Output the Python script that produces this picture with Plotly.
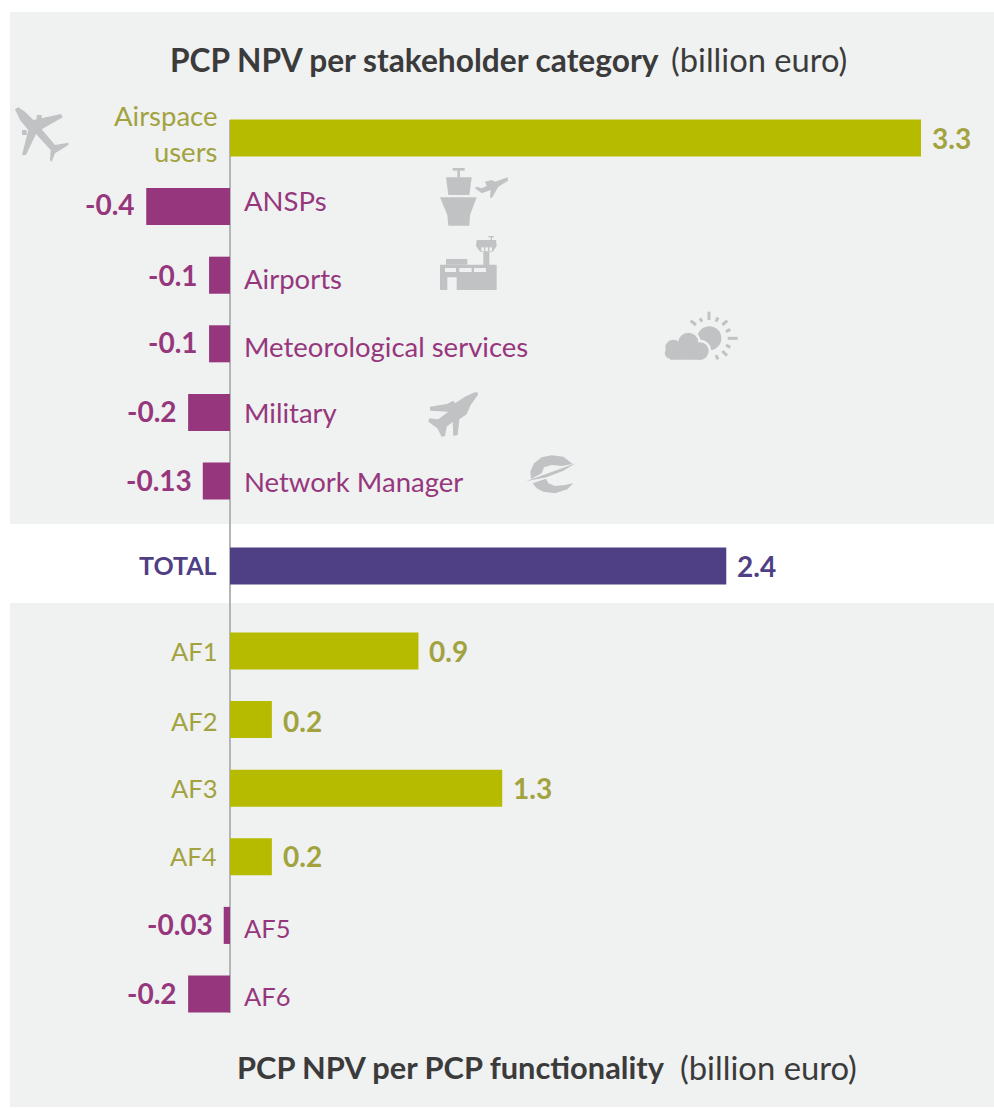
import plotly.graph_objects as go

W, H = 994, 1108
stake_cats = ["Airspace<br>users", "ANSPs", "Airports", "Meteorological services", "Military", "Network Manager"]
stake_vals = [3.3, -0.4, -0.1, -0.1, -0.2, -0.13]
stake_text = ["3.3", "-0.4", "-0.1", "-0.1", "-0.2", "-0.13"]
total_cats = ["TOTAL"]
total_vals = [2.37]
total_text = ["2.4"]
func_cats = ["AF1", "AF2", "AF3", "AF4", "AF5", "AF6"]
func_vals = [0.9, 0.2, 1.3, 0.2, -0.03, -0.2]
func_text = ["0.9", "0.2", "1.3", "0.2", "-0.03", "-0.2"]

OLIVE, OLIVE_T = "#b7bb00", "#a2a33f"
PURPLE, NAVY = "#96377d", "#4f4085"
BG, ICON, DARK = "#f0f1f1", "#c0c2c4", "#3b3b3b"
FONT = "Lato"
X0, PX = 230, 209.4


def fx(x):
    return x / W


def fy(y):
    return 1 - y / H


def rect(x0, y0, x1, y1, color, layer="below"):
    return dict(type="rect", xref="paper", yref="paper", x0=fx(x0), x1=fx(x1), y0=fy(y0), y1=fy(y1),
                fillcolor=color, line_width=0, layer=layer)


def poly(points, ox, oy, color=ICON, s=1 / 3):
    d = "M" + " L".join(f"{fx(ox + a * s):.5f},{fy(oy + b * s):.5f}" for a, b in points) + " Z"
    return dict(type="path", xref="paper", yref="paper", path=d, fillcolor=color, line_width=0, layer="below")


def zrect(a, b, c, d, ox, oy, color=ICON):
    return poly([(a, b), (c, b), (c, d), (a, d)], ox, oy, color)


def circ(cx, cy, r, ox, oy, color=ICON, line=None, lw=0):
    return dict(type="circle", xref="paper", yref="paper",
                x0=fx(ox + (cx - r) / 3), x1=fx(ox + (cx + r) / 3),
                y0=fy(oy + (cy + r) / 3), y1=fy(oy + (cy - r) / 3),
                fillcolor=color, line=dict(color=line or color, width=lw), layer="below")


def seg(a, b, c, d, ox, oy, width=3):
    return dict(type="path", xref="paper", yref="paper",
                path=f"M{fx(ox + a / 3):.5f},{fy(oy + b / 3):.5f} L{fx(ox + c / 3):.5f},{fy(oy + d / 3):.5f}",
                line=dict(color=ICON, width=width), layer="below")


shapes = [
    rect(10, 12, W, 524, BG),
    rect(10, 603, W, 1107, BG),
]

# airliner
o = (0, 90)
shapes += [
    poly([(45, 58), (55, 52), (75, 65), (100, 90), (183, 72), (188, 82), (125, 118), (165, 165), (205, 158),
          (205, 165), (165, 190), (155, 215), (150, 210), (152, 180), (108, 132), (78, 195), (66, 195),
          (85, 120), (60, 90)], *o),
    zrect(110, 75, 125, 90, *o),
    zrect(66, 120, 80, 135, *o),
]
# control tower and small plane
o = (420, 160)
shapes += [
    zrect(98, 24, 134, 32, *o),
    zrect(112, 32, 120, 52, *o),
    poly([(78, 52), (155, 52), (148, 105), (85, 105)], *o),
    poly([(60, 112), (170, 112), (150, 165), (148, 197), (85, 197), (82, 165)], *o),
    poly([(263, 52), (264, 62), (235, 80), (215, 115), (210, 112), (212, 90), (185, 100), (165, 85), (170, 80),
          (185, 85), (200, 78), (195, 65), (215, 60), (225, 65)], *o),
]
# airport
shapes += [
    zrect(205, 228, 222, 232, *o),
    zrect(212, 228, 216, 240, *o),
    poly([(170, 240), (228, 240), (230, 258), (218, 275), (180, 275), (168, 258)], *o),
    zrect(190, 275, 208, 315, *o),
    poly([(60, 314), (230, 314), (230, 390), (110, 390), (110, 352), (82, 352), (82, 390), (60, 390)], *o),
    zrect(78, 297, 142, 314, *o),
    zrect(75, 324, 108, 336, *o, BG),
    zrect(118, 324, 155, 336, *o, BG),
    zrect(162, 324, 198, 336, *o, BG),
    zrect(184, 262, 192, 273, *o, BG),
    zrect(196, 262, 204, 273, *o, BG),
    zrect(208, 262, 216, 273, *o, BG),
]
# weather
o = (650, 300)
for r in [(122, 62, 138, 75), (150, 55, 156, 65), (177, 35, 177, 60), (198, 65, 204, 52), (217, 75, 232, 62),
          (228, 95, 241, 88), (233, 115, 263, 115), (228, 135, 241, 142), (217, 153, 231, 167), (198, 165, 204, 178)]:
    shapes.append(seg(*r, *o))
shapes += [
    circ(178, 115, 36, *o),
    circ(70, 143, 24, *o, BG, BG, 5),
    circ(115, 128, 30, *o, BG, BG, 5),
    circ(150, 153, 26, *o, BG, BG, 5),
    circ(70, 143, 24, *o),
    circ(115, 128, 30, *o),
    circ(150, 153, 26, *o),
    zrect(60, 145, 155, 179, *o),
    circ(60, 160, 16, *o),
]
# fighter and network-manager mark
o = (420, 380)
shapes += [
    poly([(172, 36), (174, 44), (152, 75), (140, 103), (118, 118), (113, 165), (100, 168), (98, 125), (80, 140),
          (75, 168), (65, 170), (52, 145), (25, 125), (28, 115), (55, 118), (85, 95), (30, 92), (30, 80),
          (80, 72), (100, 62), (105, 70), (135, 50), (160, 38)], *o),
    poly([(333, 297), (331, 275), (342, 250), (365, 232), (395, 226), (430, 230), (458, 252), (425, 258),
          (395, 255), (372, 262), (365, 280)], *o),
    poly([(318, 304), (467, 250), (430, 272), (380, 292)], *o),
    poly([(338, 310), (378, 296), (385, 310), (405, 318), (435, 315), (460, 310), (442, 328), (405, 340),
          (370, 335), (350, 325)], *o),
]
# zero line
shapes.append(dict(type="line", xref="x", yref="paper", x0=0, x1=0, y0=fy(120), y1=fy(1013),
                   line=dict(color="#b4b5b7", width=2), layer="below"))


def colors(vals):
    return [OLIVE if v > 0 else PURPLE for v in vals]


def bar(cats, vals, cols, yaxis):
    return go.Bar(y=cats, x=vals, orientation="h", marker=dict(color=cols, line_width=0), yaxis=yaxis,
                  xaxis="x", showlegend=False, hoverinfo="x+y")


fig = go.Figure([
    bar(stake_cats, stake_vals, colors(stake_vals), "y"),
    bar(total_cats, total_vals, [NAVY], "y2"),
    bar(func_cats, func_vals, colors(func_vals), "y3"),
])

ann = []


def add_labels(cats, vals, texts, yref, ys_name, ys_val, name_size):
    for c, v, t, dn, dv in zip(cats, vals, texts, ys_name, ys_val):
        col = NAVY if yref == "y2" else (OLIVE_T if v > 0 else PURPLE)
        pos = v > 0
        ann.append(dict(x=v, y=c, xref="x", yref=yref, text=f"<b>{t}</b>", showarrow=False,
                        xanchor="left" if pos else "right", xshift=9 if pos else -9, yshift=-dv,
                        font=dict(family=FONT, size=28, color=col)))
        if yref == "y2":
            ann.append(dict(x=0, y=c, xref="x", yref=yref, text=f"<b>{c}</b>", showarrow=False, xanchor="right",
                            xshift=-11, yshift=-dn, font=dict(family=FONT, size=name_size, color=col)))
        else:
            ann.append(dict(x=0, y=c, xref="x", yref=yref, text=c, showarrow=False, align="right" if pos else "left",
                            xanchor="right" if pos else "left", xshift=-11 if pos else 12, yshift=-dn,
                            font=dict(family=FONT, size=name_size, color=col)))


add_labels(stake_cats, stake_vals, stake_text, "y", [-5, -6, 3, 3, 0, 0], [0, -3, 0, -2, -1, -1], 27.5)
add_labels(total_cats, total_vals, total_text, "y2", [-1], [0], 25)
add_labels(func_cats, func_vals, func_text, "y3", [0, 1, 0, -1, 3, 2], [0, 1, 0, -1, -1, -1], 25.5)


def head(x, y, text, size):
    ann.append(dict(xref="paper", yref="paper", x=fx(x), y=fy(y), showarrow=False, xanchor="left", yanchor="middle",
                    text=text, font=dict(family=FONT, size=size, color=DARK)))


head(168, 60, "<b>PCP NPV per stakeholder category</b>", 31.7)
head(669, 60, "(billion euro)", 32.7)
head(235, 1067, "<b>PCP NPV per PCP functionality</b>", 30.8)
head(678, 1067, "(billion euro)", 32.8)

SP = 68.6
hidden = dict(visible=False, autorange=False, type="category", fixedrange=True)
fig.update_layout(
    width=W, height=H, autosize=False,
    margin=dict(l=0, r=0, t=0, b=0),
    paper_bgcolor="white", plot_bgcolor="rgba(0,0,0,0)",
    bargap=0.46, barmode="overlay",
    xaxis=dict(visible=False, range=[-X0 / PX, (W - X0) / PX], domain=[0, 1], fixedrange=True),
    yaxis=dict(hidden, domain=[fy(138 + 5 * SP + SP / 2), fy(138 - SP / 2)], range=[5.5, -0.5],
               categoryorder="array", categoryarray=stake_cats),
    yaxis2=dict(hidden, domain=[fy(566 + SP / 2), fy(566 - SP / 2)], range=[0.5, -0.5],
                categoryorder="array", categoryarray=total_cats),
    yaxis3=dict(hidden, domain=[fy(651 + 5 * SP + SP / 2), fy(651 - SP / 2)], range=[5.5, -0.5],
                categoryorder="array", categoryarray=func_cats),
    shapes=shapes, annotations=ann,
)
fig.write_html("out.html", config=dict(displayModeBar=False),
               post_script="document.body.style.margin='0';document.documentElement.style.overflow='hidden';")
